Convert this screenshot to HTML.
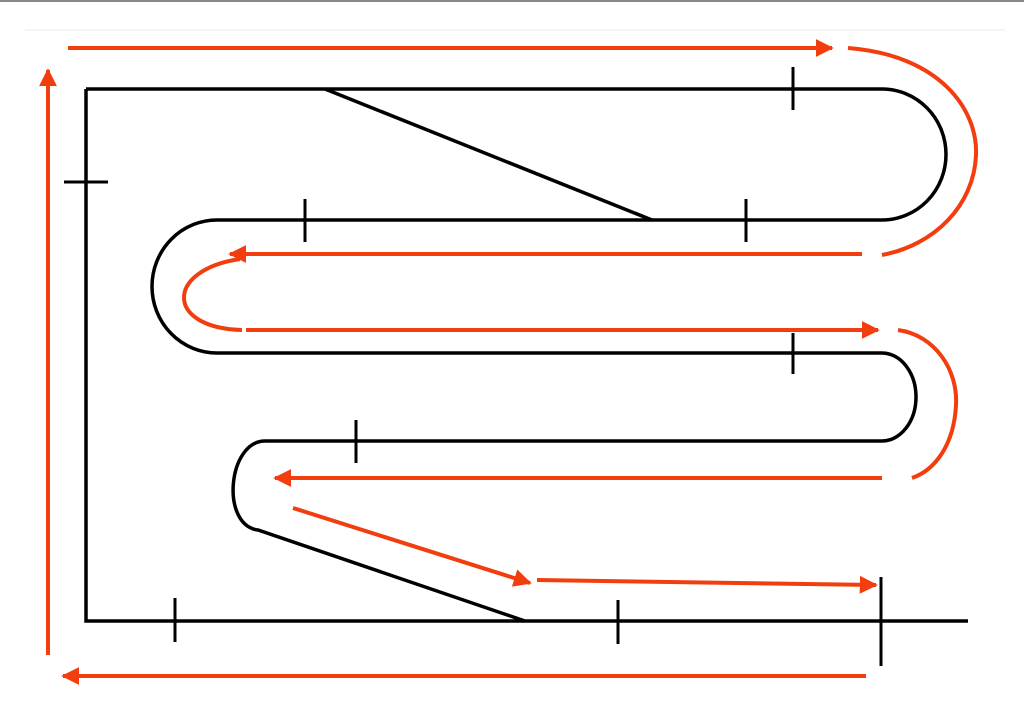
<!DOCTYPE html>
<html><head><style>html,body{margin:0;padding:0;background:#fff;width:1024px;height:724px;overflow:hidden}</style></head>
<body>
<svg width="1024" height="724" viewBox="0 0 1024 724" xmlns="http://www.w3.org/2000/svg">
<defs>
<marker id="a" viewBox="0 0 10 10" refX="9" refY="5" markerWidth="4.5" markerHeight="4.5" orient="auto" markerUnits="strokeWidth">
<path d="M0,0 L10,5 L0,10 z" fill="#f23d0e"/></marker>
</defs>
<line x1="0" y1="1" x2="1024" y2="1" stroke="#888" stroke-width="2"/>
<line x1="25" y1="30" x2="1005" y2="30" stroke="#f2f2f2" stroke-width="1.5"/>
<g fill="none" stroke="#000" stroke-width="3.5">
<path d="M86,89 H882 A64,65.5 0 0 1 882,220 H217 A65,66.5 0 0 0 217,353 H882 A34,44 0 0 1 882,441 H265 C228,441 220,525 258,530 L525,621"/>
<path d="M86,89 V621 H968"/>
<line x1="325" y1="89" x2="652" y2="220"/>
</g>
<g stroke="#000" stroke-width="3">
<line x1="793" y1="67" x2="793" y2="110"/>
<line x1="64" y1="182" x2="108" y2="182"/>
<line x1="305" y1="199" x2="305" y2="242"/>
<line x1="746" y1="199" x2="746" y2="242"/>
<line x1="793" y1="333" x2="793" y2="374"/>
<line x1="356" y1="420" x2="356" y2="463"/>
<line x1="175" y1="598" x2="175" y2="642"/>
<line x1="618" y1="600" x2="618" y2="644"/>
<line x1="881" y1="577" x2="881" y2="666"/>
</g>
<g fill="none" stroke="#f23d0e" stroke-width="4">
<line x1="68" y1="48" x2="832" y2="48" marker-end="url(#a)"/>
<path d="M848,48 C940,55 978,110 976,155 C974,205 935,245 882,255"/>
<line x1="862" y1="254" x2="230" y2="254" marker-end="url(#a)"/>
<path d="M240,259 C165,270 165,328 242,330"/>
<line x1="246" y1="330" x2="878" y2="330" marker-end="url(#a)"/>
<path d="M898,330 C935,335 958,370 956,405 C954,445 935,470 912,478"/>
<line x1="882" y1="478" x2="275" y2="478" marker-end="url(#a)"/>
<line x1="293" y1="508" x2="530" y2="583" marker-end="url(#a)"/>
<line x1="537" y1="580" x2="876" y2="585" marker-end="url(#a)"/>
<line x1="866" y1="676" x2="63" y2="676" marker-end="url(#a)"/>
<line x1="48" y1="655" x2="48" y2="70" marker-end="url(#a)"/>
</g>
</svg>
</body></html>
